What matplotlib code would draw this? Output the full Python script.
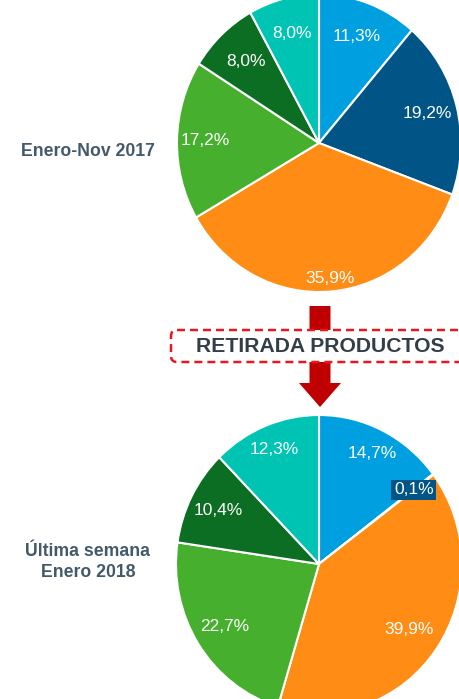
import matplotlib
matplotlib.use("Agg")
import matplotlib.pyplot as plt
from matplotlib.patches import FancyArrow, FancyBboxPatch
import numpy as np

# Market share by segment (percent), clockwise from 12 o'clock
segments = ["Seg A", "Seg B", "Seg C", "Seg D", "Seg E", "Seg F"]
share_2017 = [11.3, 19.2, 35.9, 17.2, 8.0, 8.0]
share_2018 = [14.7, 0.1, 39.9, 22.7, 10.4, 12.3]
labels_2017 = ["11,3%", "19,2%", "35,9%", "17,2%", "8,0%", "8,0%"]
labels_2018 = ["14,7%", "0,1%", "39,9%", "22,7%", "10,4%", "12,3%"]
title_2017 = "Enero-Nov 2017"
title_2018 = "Última semana\nEnero 2018"
banner_text = "RETIRADA PRODUCTOS"

colors = ["#00A0E0", "#005486", "#FF8C14", "#46B02E", "#0B6E23", "#00C4B3"]
label_dist_2017 = [0.76, 0.79, 0.91, 0.80, 0.75, 0.76]
label_dist_2018 = [0.83, 0.83, 0.77, 0.78, 0.79, 0.83]

W, H = 460, 699
fig = plt.figure(figsize=(W / 100, H / 100), dpi=100)
FONT = "Liberation Sans"


def pie_axes(cx, cy, rx, ry):
    ax = fig.add_axes([(cx - rx) / W, 1 - (cy + ry) / H, 2 * rx / W, 2 * ry / H])
    return ax


def draw_pie(ax, values, labels, dists, boxed=None):
    wedges, _ = ax.pie(values, colors=colors, startangle=90, counterclock=False,
                       normalize=True,
                       wedgeprops=dict(edgecolor="white", linewidth=1.5))
    ax.set_aspect("auto")
    ax.set_xlim(-1, 1)
    ax.set_ylim(-1, 1)
    ax.axis("off")
    for i, (w, lab, d) in enumerate(zip(wedges, labels, dists)):
        ang = np.deg2rad((w.theta1 + w.theta2) / 2)
        kw = {}
        if boxed is not None and i == boxed:
            kw["bbox"] = dict(boxstyle="square,pad=0.15", fc=colors[i], ec="none")
        ax.text(d * np.cos(ang), d * np.sin(ang), lab, ha="center", va="center",
                color="white", fontsize=12.5, family=FONT, **kw)
    for w in wedges:
        w.set_clip_on(False)


ax1 = pie_axes(319, 143, 142, 149)
draw_pie(ax1, share_2017, labels_2017, label_dist_2017)

ax2 = pie_axes(319, 564, 143, 149)
draw_pie(ax2, share_2018, labels_2018, label_dist_2018, boxed=1)

# Overlay in pixel units for the arrow, banner and side titles
ov = fig.add_axes([0, 0, 1, 1])
ov.set_xlim(0, W)
ov.set_ylim(H, 0)
ov.axis("off")
ov.patch.set_alpha(0)

arrow = FancyArrow(320, 306, 0, 101, width=21, head_width=42, head_length=24,
                   length_includes_head=True, color="#C00000", lw=0, zorder=2)
ov.add_patch(arrow)

banner = FancyBboxPatch((171, 330), 330, 32,
                        boxstyle="round,pad=0,rounding_size=6",
                        fc="white", ec="#E8191E", lw=1.8,
                        linestyle=(0, (3.2, 2.0)), zorder=3)
ov.add_patch(banner)
ov.text(320, 347, banner_text, ha="center", va="center", fontsize=15.2,
        fontweight="bold", color="#333F48", family=FONT, zorder=4)

ov.text(88, 152, title_2017, ha="center", va="center", fontsize=12.7,
        fontweight="bold", color="#44596A", family=FONT)
ov.text(88, 562, title_2018, ha="center", va="center", fontsize=12.7,
        fontweight="bold", color="#44596A", family=FONT, linespacing=1.3)

fig.savefig("out.png", dpi=100)
